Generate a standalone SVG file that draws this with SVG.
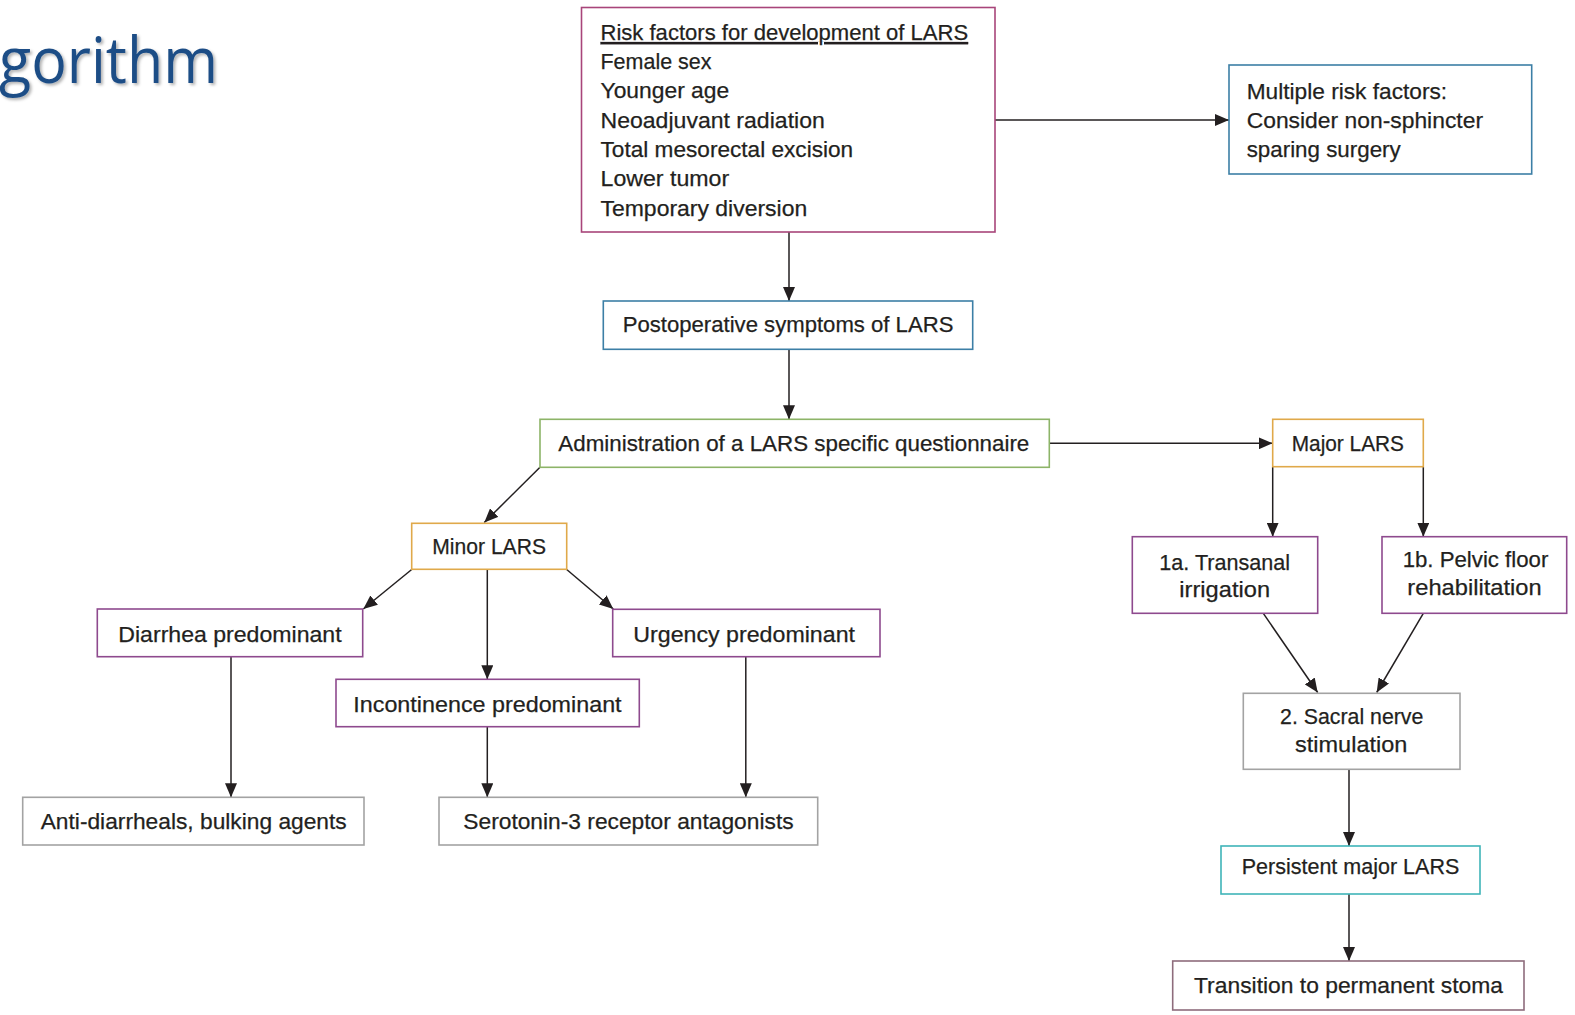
<svg xmlns="http://www.w3.org/2000/svg" width="1575" height="1015" viewBox="0 0 1575 1015">
<style>
.box{fill:#ffffff;stroke-width:1.6}
.t{font-family:"Liberation Sans",Arial,sans-serif;font-size:22.5px;fill:#231f20;stroke:#231f20;stroke-width:0.25}
.c{text-anchor:middle}
.pink{stroke:#a8457a}
.blue{stroke:#3c7fa6}
.green{stroke:#8db468}
.gold{stroke:#e0a94a}
.purple{stroke:#8e4a8e}
.gray{stroke:#a3a3a3}
.teal{stroke:#3fb4b8}
.mauve{stroke:#8e6c7c}
.ln{stroke:#231f20;stroke-width:1.5;fill:none;marker-end:url(#arr)}
</style>
<defs>
<marker id="arr" markerUnits="userSpaceOnUse" markerWidth="14" markerHeight="12" refX="14" refY="6" orient="auto">
<path d="M0,0 L14,6 L0,12 z" fill="#231f20"/>
</marker>
<filter id="sh" x="-5%" y="-5%" width="115%" height="130%">
<feDropShadow dx="2" dy="2" stdDeviation="1.5" flood-color="#000" flood-opacity="0.3"/>
</filter>
</defs>
<rect width="1575" height="1015" fill="#ffffff"/>
<text x="-1" y="83" font-family="'Open Sans','Noto Sans',sans-serif" font-size="64" fill="#1f4e86" textLength="219" lengthAdjust="spacingAndGlyphs" filter="url(#sh)">gorithm</text>

<g id="connectors">
<line class="ln" x1="995" y1="120" x2="1229" y2="120"/>
<line class="ln" x1="789" y1="232" x2="789" y2="301"/>
<line class="ln" x1="789" y1="349.3" x2="789" y2="419.3"/>
<line class="ln" x1="1049.3" y1="443.3" x2="1272.7" y2="443.3"/>
<line class="ln" x1="540" y1="467.3" x2="484.3" y2="522.5"/>
<line class="ln" x1="411.7" y1="569.5" x2="363.3" y2="609"/>
<line class="ln" x1="566.7" y1="569.5" x2="613.3" y2="609"/>
<line class="ln" x1="487.3" y1="569.3" x2="487.3" y2="679.3"/>
<line class="ln" x1="231" y1="656.7" x2="231" y2="797.3"/>
<line class="ln" x1="487.3" y1="726.7" x2="487.3" y2="797.3"/>
<line class="ln" x1="745.8" y1="656.7" x2="745.8" y2="797.3"/>
<line class="ln" x1="1272.7" y1="466.7" x2="1272.7" y2="536.7"/>
<line class="ln" x1="1423.3" y1="466.7" x2="1423.3" y2="536.7"/>
<line class="ln" x1="1263.3" y1="613.3" x2="1317.7" y2="692.5"/>
<line class="ln" x1="1423.3" y1="613.3" x2="1376.7" y2="692.5"/>
<line class="ln" x1="1349" y1="769.3" x2="1349" y2="846"/>
<line class="ln" x1="1349" y1="894" x2="1349" y2="961"/>
</g>

<g id="risk">
<rect class="box pink" x="581.5" y="7.5" width="413.5" height="224.5"/>
<text class="t" x="600.5" y="40" textLength="367.6" lengthAdjust="spacingAndGlyphs" text-decoration="underline">Risk factors for development of LARS</text>
<text class="t" x="600.5" y="68.5" textLength="111" lengthAdjust="spacingAndGlyphs">Female sex</text>
<text class="t" x="600.5" y="98" textLength="128.7" lengthAdjust="spacingAndGlyphs">Younger age</text>
<text class="t" x="600.5" y="127.5" textLength="224.3" lengthAdjust="spacingAndGlyphs">Neoadjuvant radiation</text>
<text class="t" x="600.5" y="157" textLength="252.7" lengthAdjust="spacingAndGlyphs">Total mesorectal excision</text>
<text class="t" x="600.5" y="186" textLength="128.7" lengthAdjust="spacingAndGlyphs">Lower tumor</text>
<text class="t" x="600.5" y="215.5" textLength="206.7" lengthAdjust="spacingAndGlyphs">Temporary diversion</text>
</g>

<g id="multiple">
<rect class="box blue" x="1229" y="65" width="302.7" height="109"/>
<text class="t" x="1246.7" y="99" textLength="200.5" lengthAdjust="spacingAndGlyphs">Multiple risk factors:</text>
<text class="t" x="1246.7" y="128" textLength="236.3" lengthAdjust="spacingAndGlyphs">Consider non-sphincter</text>
<text class="t" x="1246.7" y="157" textLength="154" lengthAdjust="spacingAndGlyphs">sparing surgery</text>
</g>

<g id="postop">
<rect class="box blue" x="603.3" y="301" width="369.4" height="48.3"/>
<text class="t" x="622.7" y="332" textLength="330.7" lengthAdjust="spacingAndGlyphs">Postoperative symptoms of LARS</text>
</g>

<g id="admin">
<rect class="box green" x="540" y="419.3" width="509.3" height="48"/>
<text class="t" x="558.3" y="451" textLength="471" lengthAdjust="spacingAndGlyphs">Administration of a LARS specific questionnaire</text>
</g>

<g id="minor">
<rect class="box gold" x="411.7" y="523.3" width="155" height="46"/>
<text class="t" x="432.3" y="553.5" textLength="113.7" lengthAdjust="spacingAndGlyphs">Minor LARS</text>
</g>

<g id="major">
<rect class="box gold" x="1272.7" y="419.3" width="150.6" height="47.4"/>
<text class="t" x="1291.7" y="451" textLength="112.3" lengthAdjust="spacingAndGlyphs">Major LARS</text>
</g>

<g id="diarrhea">
<rect class="box purple" x="97.3" y="609" width="265.4" height="47.7"/>
<text class="t" x="118.3" y="641.7" textLength="223.3" lengthAdjust="spacingAndGlyphs">Diarrhea predominant</text>
</g>

<g id="urgency">
<rect class="box purple" x="612.7" y="609.3" width="267.3" height="47.4"/>
<text class="t" x="633.3" y="641.7" textLength="221.7" lengthAdjust="spacingAndGlyphs">Urgency predominant</text>
</g>

<g id="incontinence">
<rect class="box purple" x="336" y="679.3" width="303.3" height="47.4"/>
<text class="t" x="353.3" y="711.7" textLength="268.3" lengthAdjust="spacingAndGlyphs">Incontinence predominant</text>
</g>

<g id="antidiarrheals">
<rect class="box gray" x="22.7" y="797.3" width="341.3" height="47.7"/>
<text class="t" x="40.7" y="828.8" textLength="306" lengthAdjust="spacingAndGlyphs">Anti-diarrheals, bulking agents</text>
</g>

<g id="serotonin">
<rect class="box gray" x="439" y="797.3" width="378.7" height="47.7"/>
<text class="t" x="463.3" y="828.8" textLength="330.3" lengthAdjust="spacingAndGlyphs">Serotonin-3 receptor antagonists</text>
</g>

<g id="transanal">
<rect class="box purple" x="1132.3" y="536.7" width="185.4" height="76.6"/>
<text class="t c" x="1224.7" y="569.5" textLength="130.7" lengthAdjust="spacingAndGlyphs">1a. Transanal</text>
<text class="t c" x="1224.7" y="597.2" textLength="90.7" lengthAdjust="spacingAndGlyphs">irrigation</text>
</g>

<g id="pelvic">
<rect class="box purple" x="1382" y="536.7" width="184.7" height="76.6"/>
<text class="t c" x="1475.5" y="567.2" textLength="145.7" lengthAdjust="spacingAndGlyphs">1b. Pelvic floor</text>
<text class="t c" x="1474.5" y="594.8" textLength="134.3" lengthAdjust="spacingAndGlyphs">rehabilitation</text>
</g>

<g id="sacral">
<rect class="box gray" x="1243.3" y="693.3" width="216.7" height="76"/>
<text class="t c" x="1351.7" y="723.8" textLength="143.3" lengthAdjust="spacingAndGlyphs">2. Sacral nerve</text>
<text class="t c" x="1351.2" y="752.2" textLength="112.3" lengthAdjust="spacingAndGlyphs">stimulation</text>
</g>

<g id="persistent">
<rect class="box teal" x="1221" y="846" width="259" height="48"/>
<text class="t c" x="1350.5" y="874" textLength="217.7" lengthAdjust="spacingAndGlyphs">Persistent major LARS</text>
</g>

<g id="transition">
<rect class="box mauve" x="1172.7" y="961" width="351.3" height="49"/>
<text class="t c" x="1348.5" y="993" textLength="309" lengthAdjust="spacingAndGlyphs">Transition to permanent stoma</text>
</g>
</svg>
